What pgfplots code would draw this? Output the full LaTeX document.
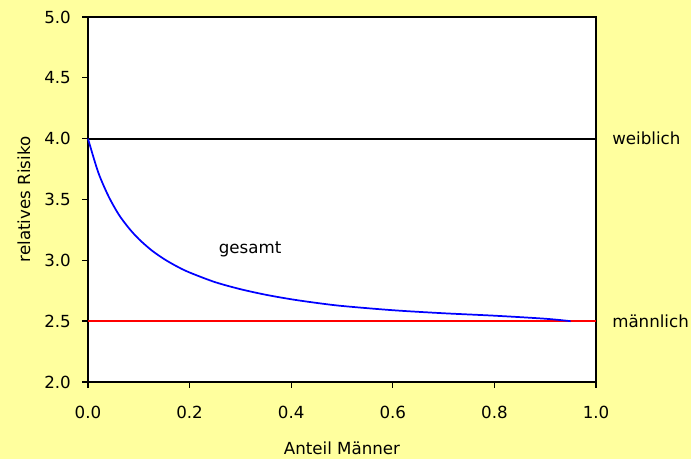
\documentclass[border=0pt]{standalone}
\usepackage{fontspec}
\setmainfont{DejaVu Sans}
\usepackage{pgfplots}
\pgfplotsset{compat=1.18}
\definecolor{bgyellow}{RGB}{255,255,158}
\begin{document}
\fontsize{12.5}{15}\selectfont
\begin{tikzpicture}
% Hintergrund (691 x 459 px, 1 px = 0.75 pt)
\useasboundingbox[fill=bgyellow] (-66pt,-57.75pt) rectangle (452.25pt,286.5pt);
\begin{axis}[
    at={(0,0)}, anchor=south west,
    scale only axis,
    width=381pt, height=273.75pt,
    xmin=0, xmax=1, ymin=2, ymax=5,
    xtick={0,0.2,...,1.0},
    ytick={2,2.5,...,5},
    xtick pos=left, ytick pos=left,
    tick align=outside,
    major tick length=4.5pt,
    tick style={black, line width=1pt},
    axis line style={black, line width=1.3pt},
    axis background/.style={fill=white},
    /pgf/number format/.cd, fixed, fixed zerofill, precision=1, assume math mode=true,
    /pgfplots/.cd,
    xticklabel style={yshift=-9pt},
    yticklabel style={xshift=-4pt},
    xlabel={Anteil Männer},
    ylabel={relatives Risiko},
    xlabel style={at={(axis description cs:0.5,0)}, anchor=center, yshift=-49.5pt},
    ylabel style={at={(axis description cs:0,0.5)}, anchor=center, yshift=48pt},
    clip=false,
]
\addplot[black, line width=1.3pt] coordinates {(0,4) (1,4)};
\addplot[red, line width=1.3pt] coordinates {(0,2.5) (1,2.5)};
\addplot[blue, line width=1.3pt, smooth] coordinates {
(0,4.0) (0.02,3.725) (0.04,3.53) (0.06,3.38) (0.08,3.267) (0.10,3.175)
(0.125,3.083) (0.15,3.01) (0.175,2.95) (0.2,2.9) (0.25,2.821) (0.3,2.763)
(0.35,2.717) (0.4,2.68) (0.45,2.65) (0.5,2.625) (0.6,2.59) (0.7,2.565)
(0.8,2.545) (0.9,2.52) (0.95,2.5)
};
\node[anchor=west, inner sep=0pt] at (axis cs:1,4) [xshift=12pt] {weiblich};
\node[anchor=west, inner sep=0pt] at (axis cs:1,2.5) [xshift=12pt] {männlich};
\node at (axis cs:0.319,3.09) {gesamt};
\end{axis}
\end{tikzpicture}
\end{document}
